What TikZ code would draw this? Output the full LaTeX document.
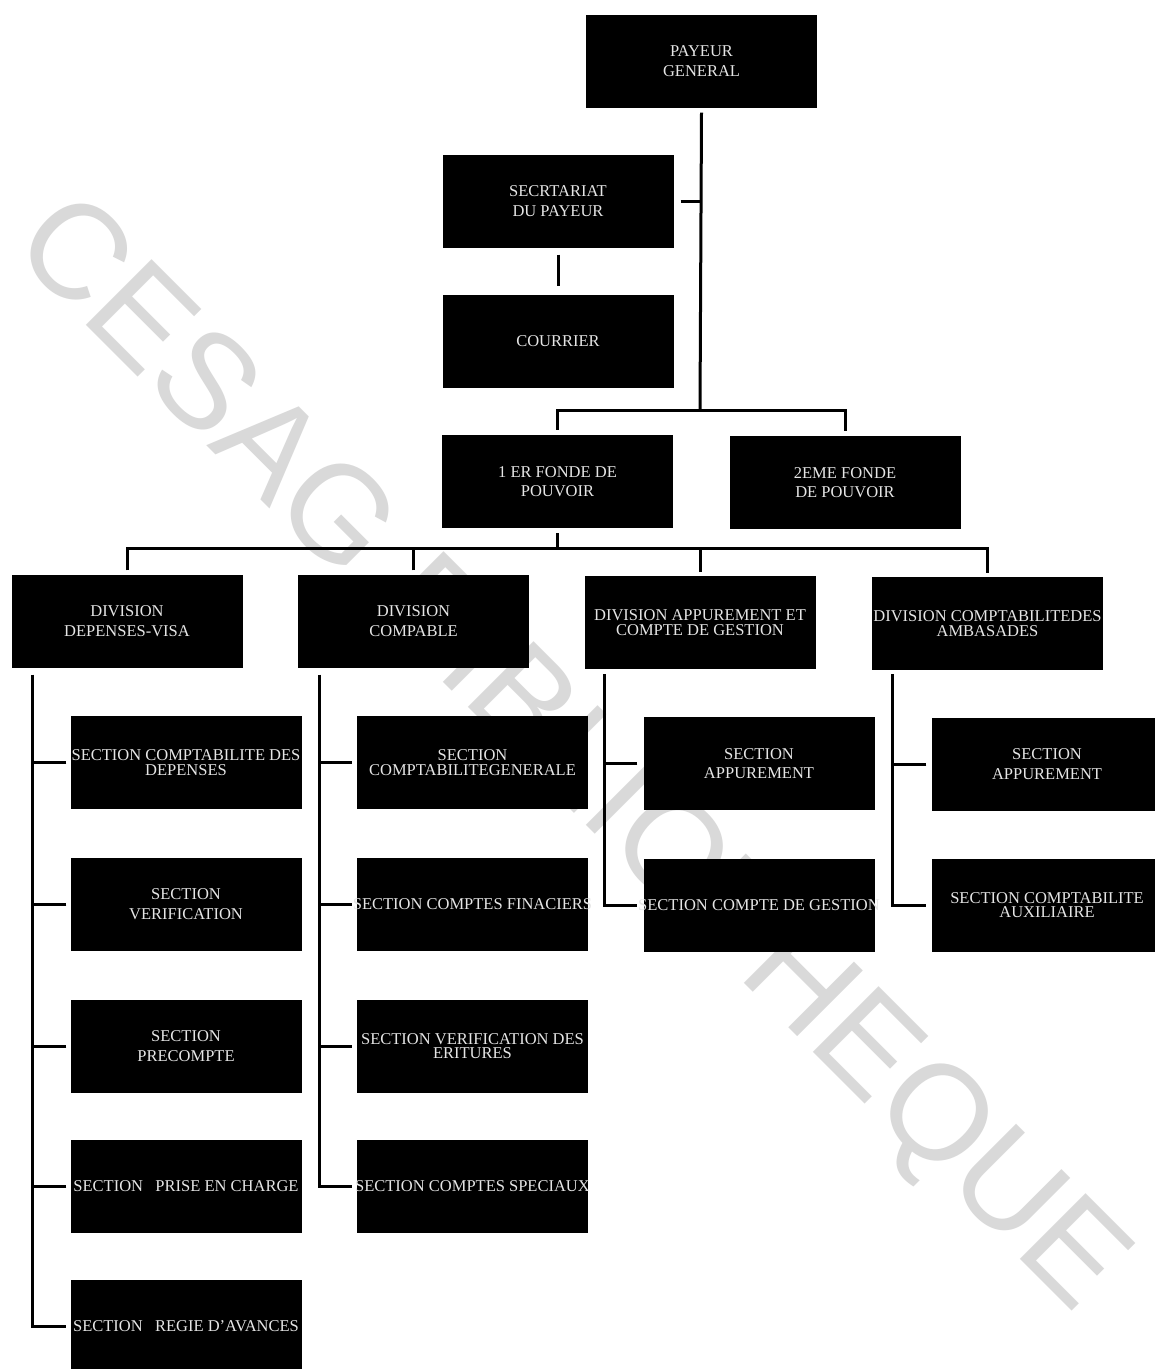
\documentclass[tikz,border=0pt]{standalone}
\usepackage{fontspec}
\setmainfont{Liberation Serif}
\newfontfamily\markfont{Liberation Sans}
% a label line that may run past the edges of its box without widening it
\newcommand{\runover}[1]{\makebox[200pt][c]{#1}}
\begin{document}
\begin{tikzpicture}[x=1pt,y=-1pt,
  box/.style={fill=black, draw=none, inner sep=0pt, minimum width=231pt,
    minimum height=93pt, text=white!90!black, align=center,
    font=\fontsize{16.5}{19.5}\selectfont},
  tight/.style={font=\fontsize{16.5}{14.5}\selectfont},
  link/.style={line width=3pt, draw=black}]
\useasboundingbox (0,0) rectangle (1155,1369);
\fill[white] (0,0) rectangle (1155,1369);

% library stamp behind the chart
\node[font=\markfont\fontsize{135}{135}\selectfont, text=black!15, rotate=-45,
  anchor=base, inner sep=0pt] (stamp) at (543,782) {CESAG BIBLIOTHEQUE};

% top management
\node[box] (pg)   at (701.5,61)  {PAYEUR\\GENERAL};
\node[box] (sec)  at (558,201)   {SECRTARIAT\\DU PAYEUR};
\node[box] (cour) at (558,341)   {COURRIER};
\node[box] (fp1)  at (557.5,481.5) {1 ER FONDE DE\\POUVOIR};
\node[box] (fp2)  at (845,482.5) {2EME FONDE\\DE POUVOIR};

% divisions
\node[box] (d1) at (127,621)   {DIVISION\\DEPENSES-VISA};
\node[box] (d2) at (413.5,621) {DIVISION\\COMPABLE};
\node[box,tight] (d3) at (700,622.5) {DIVISION APPUREMENT ET\\COMPTE DE GESTION};
\node[box,tight] (d4) at (987.5,623.5) {\runover{DIVISION COMPTABILITEDES}\\AMBASADES};

% sections of the first division
\node[box,tight] (a1) at (186,762.5) {\runover{SECTION COMPTABILITE DES}\\DEPENSES};
\node[box] (a2) at (186,904)    {SECTION\\VERIFICATION};
\node[box] (a3) at (186,1046)   {SECTION\\PRECOMPTE};
\node[box] (a4) at (186,1186.5) {\runover{SECTION \ \ PRISE EN CHARGE}};
\node[box] (a5) at (186,1326)   {\runover{SECTION \ \ REGIE D'AVANCES}};

% sections of the second division
\node[box,tight] (b1) at (472.5,762.5) {SECTION\\COMPTABILITEGENERALE};
\node[box] (b2) at (472.5,904)    {\runover{SECTION COMPTES FINACIERS}};
\node[box,tight] (b3) at (472.5,1046) {\runover{SECTION VERIFICATION DES}\\ERITURES};
\node[box] (b4) at (472.5,1186.5) {\runover{SECTION COMPTES SPECIAUX}};

% sections of the third division
\node[box] (c1) at (759,763.5) {SECTION\\APPUREMENT};
\node[box] (c2) at (759,905)   {\runover{SECTION COMPTE DE GESTION}};

% sections of the fourth division
\node[box] (e1) at (1047,764) {SECTION\\APPUREMENT};
\node[box,tight] (e2) at (1047,905) {SECTION COMPTABILITE\\AUXILIAIRE};

% upper connectors
\coordinate (j1) at (700,410);
\draw[link] ([yshift=-5pt]pg.south) -- (j1);
\draw[link] ([xshift=7pt]sec.east) -- (sec.east -| j1);
\draw[link] ([yshift=-7pt]sec.south) -- ([yshift=8pt]cour.north);
\draw[link] ([yshift=5pt]fp1.north) |- (j1) -| ([yshift=5pt]fp2.north);

% division bar
\coordinate (j2) at (557.5,548);
\draw[link] ([yshift=-5pt]fp1.south) -- (j2);
\draw[link] ([yshift=4pt]d1.north) |- (j2) -| ([yshift=4pt]d4.north);
\draw[link] ([yshift=4pt]d2.north) -- (d2.north |- j2);
\draw[link] ([yshift=4pt]d3.north) -- (d3.north |- j2);

% section trunks
\coordinate (t1) at ([shift={(21pt,-7pt)}]d1.south west);
\coordinate (t2) at ([shift={(22pt,-7pt)}]d2.south west);
\coordinate (t3) at ([shift={(20pt,-5pt)}]d3.south west);
\coordinate (t4) at ([shift={(21pt,-4pt)}]d4.south west);

\draw[link] (t1) |- ([xshift=-4pt]a5.west);
\foreach \s in {a1,a2,a3,a4}
  \draw[link] ([xshift=-4pt]\s.west) -- (\s.west -| t1);

\draw[link] (t2) |- ([xshift=-5pt]b4.west);
\foreach \s in {b1,b2,b3}
  \draw[link] ([xshift=-5pt]\s.west) -- (\s.west -| t2);

\draw[link] (t3) |- ([xshift=-6pt]c2.west);
\draw[link] ([xshift=-6pt]c1.west) -- (c1.west -| t3);

\draw[link] (t4) |- ([xshift=-5pt]e2.west);
\draw[link] ([xshift=-5pt]e1.west) -- (e1.west -| t4);
\end{tikzpicture}
\end{document}
